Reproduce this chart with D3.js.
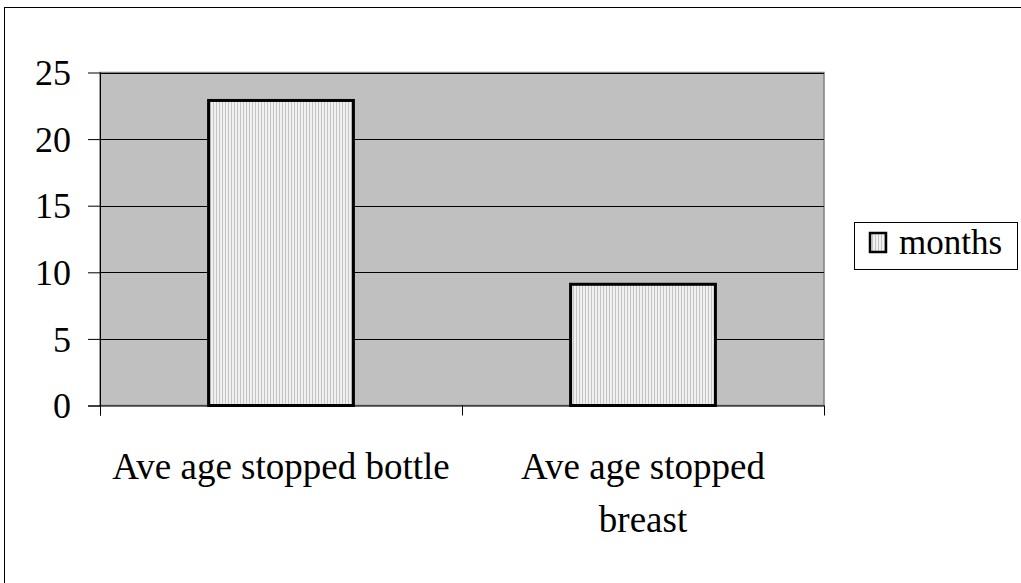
<!DOCTYPE html>
<html>
<head>
<meta charset="utf-8">
<script src="https://cdn.jsdelivr.net/npm/d3@7"></script>
<style>
  body { margin: 0; background: #fff; }
  svg text { font-family: "Liberation Serif", "Times New Roman", serif; fill: #000; }
</style>
</head>
<body>
<svg id="chart" width="1021" height="583"></svg>
<script>
let categories = [["Ave age stopped bottle"], ["Ave age stopped", "breast"]];
let months = [22.9, 9.1];
let yTicks = [0, 5, 10, 15, 20, 25];
let seriesName = "months";

let svg = d3.select("#chart");

// outer chart border (right/bottom run off the page)
svg.append("rect")
  .attr("x", 4.5).attr("y", 7.5)
  .attr("width", 1030).attr("height", 600)
  .attr("fill", "#fff").attr("stroke", "#000").attr("stroke-width", 1);

let defs = svg.append("defs");
let pat = defs.append("pattern")
  .attr("id", "stripes")
  .attr("patternUnits", "userSpaceOnUse")
  .attr("width", 3).attr("height", 4);
pat.append("rect").attr("width", 3).attr("height", 4).attr("fill", "#f0f0f0");
pat.append("rect").attr("x", 0).attr("width", 1).attr("height", 4).attr("fill", "#c4c4c4");

let plot = { left: 100, right: 824, top: 72.5, bottom: 405.5 };

let x = d3.scaleBand()
  .domain(categories.map((d, i) => i))
  .range([plot.left, plot.right])
  .paddingInner(0.6)
  .paddingOuter(0.3);

let xBand = d3.scaleBand()
  .domain(categories.map((d, i) => i))
  .range([plot.left, plot.right]);

let y = d3.scaleLinear().domain([0, 25]).range([plot.bottom, plot.top]);

// plot background
svg.append("rect")
  .attr("x", plot.left).attr("y", plot.top)
  .attr("width", plot.right - plot.left).attr("height", plot.bottom - plot.top)
  .attr("fill", "#c0c0c0").attr("stroke", "#808080").attr("stroke-width", 1.5);

// gridlines
svg.selectAll(".grid")
  .data(yTicks.filter(t => t > 0))
  .enter().append("line")
  .attr("x1", plot.left).attr("x2", plot.right)
  .attr("y1", d => Math.round(y(d)) + 0.5).attr("y2", d => Math.round(y(d)) + 0.5)
  .attr("stroke", "#000").attr("stroke-width", 1);

// bars
svg.selectAll(".bar")
  .data(months)
  .enter().append("rect")
  .attr("x", (d, i) => x(i))
  .attr("y", d => y(d))
  .attr("width", x.bandwidth())
  .attr("height", d => y(0) - y(d))
  .attr("fill", "url(#stripes)")
  .attr("stroke", "#000").attr("stroke-width", 3);

// y axis
let yAxis = d3.axisLeft(y).tickValues(yTicks).tickSize(12).tickPadding(17);
let ya = svg.append("g").attr("transform", `translate(${plot.left},0)`).call(yAxis);
ya.select(".domain").attr("stroke", "#000").attr("d", `M0.5,${plot.top}V${plot.bottom + 10}`);
ya.selectAll(".tick line").attr("stroke", "#000");
ya.selectAll(".tick text")
  .attr("font-size", 36).attr("fill", "#000").attr("dy", "0.34em");

// x axis
let xAxisLine = svg.append("g");
xAxisLine.append("line")
  .attr("x1", plot.left - 12).attr("x2", plot.right)
  .attr("y1", plot.bottom + 0.5).attr("y2", plot.bottom + 0.5)
  .attr("stroke", "#000");
let bounds = categories.map((d, i) => xBand(i)).concat([plot.right]);
xAxisLine.selectAll(".xt")
  .data(bounds)
  .enter().append("line")
  .attr("x1", d => Math.round(d) + 0.5).attr("x2", d => Math.round(d) + 0.5)
  .attr("y1", plot.bottom).attr("y2", plot.bottom + 10)
  .attr("stroke", "#000");

let labels = svg.selectAll(".xlabel")
  .data(categories)
  .enter().append("text")
  .attr("text-anchor", "middle")
  .attr("font-size", 37)
  .attr("x", (d, i) => xBand(i) + xBand.bandwidth() / 2)
  .attr("y", 479);
labels.selectAll("tspan")
  .data(d => d)
  .enter().append("tspan")
  .attr("x", function () { return this.parentNode.getAttribute("x"); })
  .attr("dy", (d, i) => i === 0 ? 0 : 53)
  .text(d => d);

// legend
let lg = svg.append("g").attr("transform", "translate(854,222)");
lg.append("rect").attr("x", 0.5).attr("y", 0.5).attr("width", 163).attr("height", 47)
  .attr("fill", "#fff").attr("stroke", "#000");
lg.append("rect").attr("x", 16).attr("y", 11).attr("width", 16).attr("height", 19)
  .attr("fill", "url(#stripes)").attr("stroke", "#000").attr("stroke-width", 2.5);
lg.append("text").attr("x", 45).attr("y", 32).attr("font-size", 35).text(seriesName);
</script>
</body>
</html>
